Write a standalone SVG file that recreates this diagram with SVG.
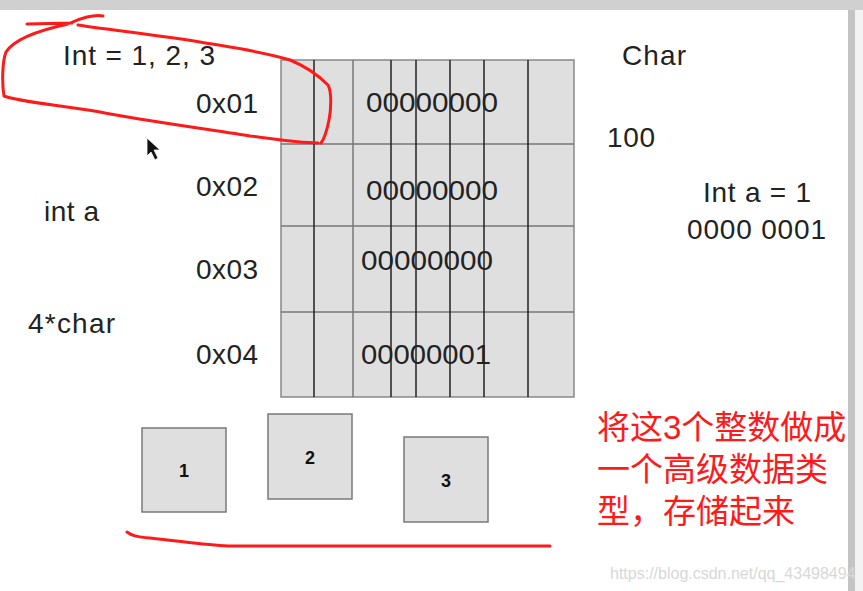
<svg xmlns="http://www.w3.org/2000/svg" width="863" height="591" viewBox="0 0 863 591">
<style>
.t{font-family:"Liberation Sans",Arial,sans-serif;font-size:28px;fill:#222}
.b{font-family:"Liberation Sans",Arial,sans-serif;font-size:18px;font-weight:bold;fill:#111;text-anchor:middle}
.cjk{font-family:"Liberation Sans","Noto Sans CJK SC",sans-serif;font-size:33px;fill:#ff1a1a}
.box{fill:#dfdfe0;stroke:#7a7a7a;stroke-width:1.5}
.v{stroke:#222;stroke-width:1.5}
.h{stroke:#777;stroke-width:1.5}
.red{fill:none;stroke:#ff1a1a;stroke-width:3;stroke-linecap:round;stroke-linejoin:round}
</style>
<rect width="863" height="591" fill="#fff"/>
<rect x="0" y="0" width="863" height="10" fill="#d0d0d0"/>
<rect x="848" y="10" width="7" height="581" fill="#c4c4c4"/>
<rect x="855" y="10" width="8" height="581" fill="#f3f3f3"/>

<g id="grid">
<rect x="281" y="60" width="293" height="337" fill="#dfdfe0" stroke="#888" stroke-width="1.5"/>
<line class="h" x1="281" y1="144" x2="574" y2="144"/>
<line class="h" x1="281" y1="226" x2="574" y2="226"/>
<line class="h" x1="281" y1="312" x2="574" y2="312"/>
<line class="v" x1="314" y1="60" x2="314" y2="397"/>
<line class="h" x1="353" y1="60" x2="353" y2="397"/>
<line class="v" x1="391" y1="60" x2="391" y2="397"/>
<line class="v" x1="416" y1="60" x2="416" y2="397"/>
<line class="v" x1="450" y1="60" x2="450" y2="397"/>
<line class="v" x1="484" y1="60" x2="484" y2="397"/>
<line class="v" x1="528" y1="60" x2="528" y2="397"/>
<text class="t" x="366" y="112" textLength="132" lengthAdjust="spacingAndGlyphs">00000000</text>
<text class="t" x="366" y="200" textLength="132" lengthAdjust="spacingAndGlyphs">00000000</text>
<text class="t" x="361" y="270" textLength="132" lengthAdjust="spacingAndGlyphs">00000000</text>
<text class="t" x="361" y="364" textLength="130" lengthAdjust="spacingAndGlyphs">00000001</text>
</g>

<g id="labels">
<text class="t" x="63" y="65" textLength="152">Int = 1, 2, 3</text>
<text class="t" x="196" y="113" textLength="62">0x01</text>
<text class="t" x="196" y="196" textLength="62">0x02</text>
<text class="t" x="196" y="279" textLength="62">0x03</text>
<text class="t" x="196" y="364" textLength="62">0x04</text>
<text class="t" x="44" y="221" textLength="55">int a</text>
<text class="t" x="28" y="333" textLength="87">4*char</text>
<text class="t" x="622" y="65" textLength="64">Char</text>
<text class="t" x="607" y="147" textLength="48">100</text>
<text class="t" x="703" y="202" textLength="108">Int a = 1</text>
<text class="t" x="687" y="239" textLength="139">0000 0001</text>
</g>

<g id="box1"><rect class="box" x="142" y="428" width="84" height="84"/><text class="b" x="184" y="477">1</text></g>
<g id="box2"><rect class="box" x="268" y="414" width="84" height="85"/><text class="b" x="310" y="464">2</text></g>
<g id="box3"><rect class="box" x="404" y="437" width="84" height="85"/><text class="b" x="446" y="487">3</text></g>

<g id="note">
<text class="cjk" x="597" y="439">将这3个整数做成</text>
<text class="cjk" x="597" y="481">一个高级数据类</text>
<text class="cjk" x="597" y="523">型，存储起来</text>
</g>

<text x="610" y="579" font-family="'Liberation Sans',Arial,sans-serif" font-size="16" fill="#d8d8d8">https://blog.csdn.net/qq_43498494</text>

<g id="annotations">
<path class="red" d="M27,24 L72,23 M103,16 C95,14 80,18 68,24 C40,30 15,38 6,52 C2,62 2,85 4,96 C20,102 60,105 100,112 C140,120 200,128 250,136 C280,140 300,143 318,143 M78,25 C110,30 150,34 200,42 C235,48 265,52 290,60 C305,66 318,75 328,85 C332,92 331,110 329,120 C327,130 325,138 321,143"/>
<path class="red" d="M127,532 C132,536 138,537 150,538 C180,541 205,545 228,546 L550,546"/>
</g>

<g id="cursor">
<polygon points="147,138 147,156 151,152 155,160 158,158 154,150 160,150" fill="#111" stroke="#fff" stroke-width="0.8"/>
</g>
</svg>
